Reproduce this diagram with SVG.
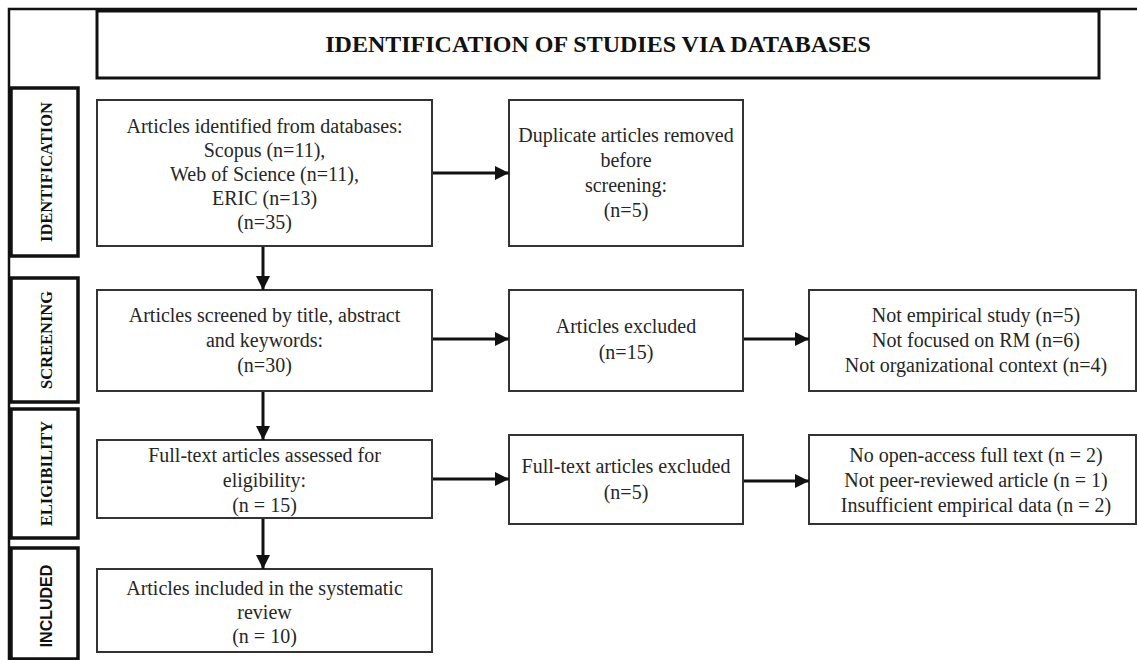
<svg xmlns="http://www.w3.org/2000/svg" width="1137" height="660" viewBox="0 0 1137 660">
<style>
.bg{fill:#ffffff}
.box{fill:#ffffff;stroke:#333333;stroke-width:2}
.side{fill:#ffffff;stroke:#111111;stroke-width:3.5}
.title{fill:#ffffff;stroke:#111111;stroke-width:3}
.frame{fill:none;stroke:#111111;stroke-width:2.5}
.t{font-family:"Liberation Serif","Times New Roman",serif;font-size:20px;fill:#262626;text-anchor:middle}
.tt{font-family:"Liberation Serif","Times New Roman",serif;font-size:24px;font-weight:bold;fill:#111111;text-anchor:middle}
.st{font-family:"Liberation Serif","Times New Roman",serif;font-size:16.5px;font-weight:bold;fill:#111111;text-anchor:middle}
.ss{font-family:"Liberation Sans",Arial,sans-serif;font-size:16px;font-weight:bold;fill:#111111;text-anchor:middle}
.conn{stroke:#111111;stroke-width:3;fill:none}
</style>
<defs>
<marker id="ah" markerWidth="14" markerHeight="14" refX="14" refY="7" orient="auto" markerUnits="userSpaceOnUse">
<path d="M0,0 L14,7 L0,14 Z" fill="#111111"/>
</marker>
</defs>
<rect class="bg" x="0" y="0" width="1137" height="660"/>
<path class="frame" d="M9,660 L9,9 L1137,9"/>

<g id="title">
<rect class="title" x="97" y="11" width="1002" height="67"/>
<text class="tt" x="598" y="52">IDENTIFICATION OF STUDIES VIA DATABASES</text>
</g>

<g id="stage-identification">
<rect class="side" x="11" y="88" width="67" height="168"/>
<text class="st" transform="translate(52,172) rotate(-90)">IDENTIFICATION</text>
</g>
<g id="stage-screening">
<rect class="side" x="11" y="278" width="67" height="124"/>
<text class="st" transform="translate(52,340) rotate(-90)">SCREENING</text>
</g>
<g id="stage-eligibility">
<rect class="side" x="11" y="409" width="67" height="129"/>
<text class="st" transform="translate(52,473.5) rotate(-90)">ELIGIBILITY</text>
</g>
<g id="stage-included">
<rect class="side" x="11" y="548" width="67" height="111"/>
<text class="ss" transform="translate(52,606) rotate(-90)">INCLUDED</text>
</g>

<g id="identified">
<rect class="box" x="97" y="100" width="335" height="146"/>
<text class="t" x="264.5" y="133">Articles identified from databases:</text>
<text class="t" x="264.5" y="157">Scopus (n=11),</text>
<text class="t" x="264.5" y="181">Web of Science (n=11),</text>
<text class="t" x="264.5" y="205">ERIC (n=13)</text>
<text class="t" x="264.5" y="229">(n=35)</text>
</g>
<g id="duplicates">
<rect class="box" x="509" y="100" width="234" height="146"/>
<text class="t" x="626" y="142">Duplicate articles removed</text>
<text class="t" x="626" y="167">before</text>
<text class="t" x="626" y="192">screening:</text>
<text class="t" x="626" y="217">(n=5)</text>
</g>
<g id="screened">
<rect class="box" x="97" y="290" width="335" height="101"/>
<text class="t" x="264.5" y="322">Articles screened by title, abstract</text>
<text class="t" x="264.5" y="347">and keywords:</text>
<text class="t" x="264.5" y="372">(n=30)</text>
</g>
<g id="excluded">
<rect class="box" x="509" y="290" width="234" height="101"/>
<text class="t" x="626" y="333">Articles excluded</text>
<text class="t" x="626" y="359">(n=15)</text>
</g>
<g id="excluded-reasons">
<rect class="box" x="809" y="290" width="327" height="101"/>
<text class="t" x="976" y="322">Not empirical study (n=5)</text>
<text class="t" x="976" y="347">Not focused on RM (n=6)</text>
<text class="t" x="976" y="372">Not organizational context (n=4)</text>
</g>
<g id="assessed">
<rect class="box" x="97" y="440" width="335" height="78"/>
<text class="t" x="264.5" y="462">Full-text articles assessed for</text>
<text class="t" x="264.5" y="487">eligibility:</text>
<text class="t" x="264.5" y="512">(n = 15)</text>
</g>
<g id="ft-excluded">
<rect class="box" x="509" y="435" width="234" height="89"/>
<text class="t" x="626" y="473">Full-text articles excluded</text>
<text class="t" x="626" y="499">(n=5)</text>
</g>
<g id="ft-reasons">
<rect class="box" x="809" y="435" width="327" height="89"/>
<text class="t" x="976" y="462">No open-access full text (n = 2)</text>
<text class="t" x="976" y="487">Not peer-reviewed article (n = 1)</text>
<text class="t" x="976" y="512">Insufficient empirical data (n = 2)</text>
</g>
<g id="included">
<rect class="box" x="97" y="569" width="335" height="83"/>
<text class="t" x="264.5" y="595">Articles included in the systematic</text>
<text class="t" x="264.5" y="619">review</text>
<text class="t" x="264.5" y="643">(n = 10)</text>
</g>

<g id="connectors">
<line class="conn" x1="433" y1="173" x2="509" y2="173" marker-end="url(#ah)"/>
<line class="conn" x1="263" y1="247" x2="263" y2="290" marker-end="url(#ah)"/>
<line class="conn" x1="433" y1="339" x2="509" y2="339" marker-end="url(#ah)"/>
<line class="conn" x1="744" y1="339" x2="809" y2="339" marker-end="url(#ah)"/>
<line class="conn" x1="263" y1="392" x2="263" y2="440" marker-end="url(#ah)"/>
<line class="conn" x1="433" y1="479" x2="509" y2="479" marker-end="url(#ah)"/>
<line class="conn" x1="744" y1="481" x2="809" y2="481" marker-end="url(#ah)"/>
<line class="conn" x1="263" y1="519" x2="263" y2="569" marker-end="url(#ah)"/>
</g>
</svg>
